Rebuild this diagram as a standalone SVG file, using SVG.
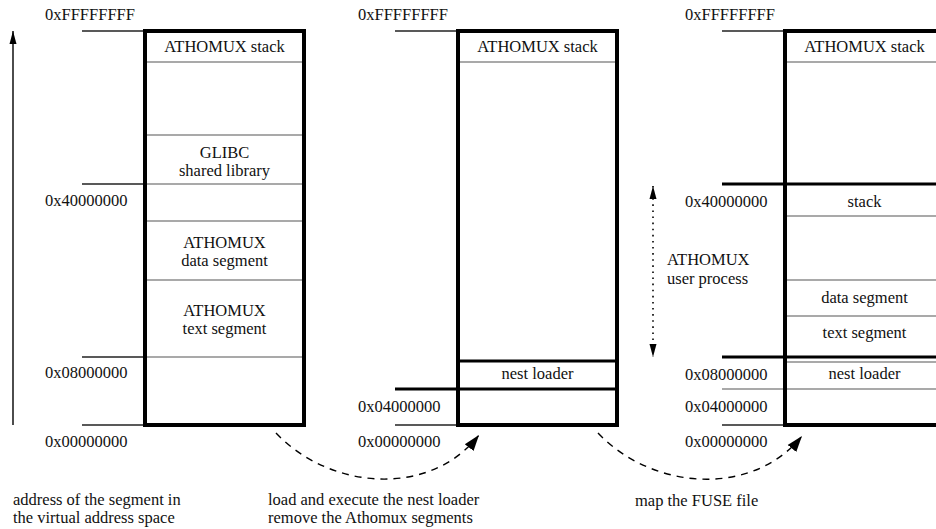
<svg xmlns="http://www.w3.org/2000/svg" width="936" height="529" viewBox="0 0 936 529">
<style>
text{font-family:"Liberation Serif",Tinos,"Times New Roman",Times,"DejaVu Serif","Noto Serif",serif;font-size:16.5px;fill:#111}
.c{text-anchor:middle}
.box{fill:none;stroke:#000;stroke-width:4}
.thin{stroke:#555;stroke-width:1.2;fill:none}
.tick{stroke:#222;stroke-width:1.5;fill:none}
.thick{stroke:#000;stroke-width:2.8;fill:none}
.dash{stroke:#000;stroke-width:1.4;fill:none;stroke-dasharray:7 6}
.dot{stroke:#000;stroke-width:1.6;fill:none;stroke-dasharray:1.6 4.5}
.axis{stroke:#000;stroke-width:1.4;fill:none}
</style>
<defs>
<marker id="ah" markerUnits="userSpaceOnUse" markerWidth="18" markerHeight="14" refX="16" refY="7" orient="auto"><path d="M0,1.5 L16,7 L0,12.5 Z" fill="#000"/></marker>
<marker id="ahs" markerUnits="userSpaceOnUse" markerWidth="14" markerHeight="10" refX="13" refY="4" orient="auto"><path d="M0,0.5 L13,4 L0,7.5 Z" fill="#000"/></marker>
<marker id="ahs0" markerUnits="userSpaceOnUse" markerWidth="14" markerHeight="10" refX="0" refY="4" orient="auto"><path d="M13,0.5 L0,4 L13,7.5 Z" fill="#000"/></marker>
</defs>

<g id="col1">
<line class="tick" x1="82" y1="31" x2="145" y2="31"/>
<line class="tick" x1="82" y1="184" x2="145" y2="184"/>
<line class="tick" x1="82" y1="357" x2="145" y2="357"/>
<line class="tick" x1="82" y1="425" x2="145" y2="425"/>
<line class="thin" x1="145" y1="62" x2="304" y2="62"/>
<line class="thin" x1="145" y1="135" x2="304" y2="135"/>
<line class="thin" x1="145" y1="184" x2="304" y2="184"/>
<line class="thin" x1="145" y1="221" x2="304" y2="221"/>
<line class="thin" x1="145" y1="280" x2="304" y2="280"/>
<line class="thin" x1="145" y1="357" x2="304" y2="357"/>
<rect class="box" x="145" y="31" width="159" height="394"/>
<text x="45" y="20">0xFFFFFFFF</text>
<text x="45" y="206">0x40000000</text>
<text x="45" y="378">0x08000000</text>
<text x="45" y="447">0x00000000</text>
<text class="c" x="224.5" y="52">ATHOMUX stack</text>
<text class="c" x="224.5" y="158">GLIBC</text>
<text class="c" x="224.5" y="176">shared library</text>
<text class="c" x="224.5" y="248">ATHOMUX</text>
<text class="c" x="224.5" y="266">data segment</text>
<text class="c" x="224.5" y="316">ATHOMUX</text>
<text class="c" x="224.5" y="334">text segment</text>
</g>

<g id="col2">
<line class="tick" x1="395" y1="31" x2="458" y2="31"/>
<line class="thick" x1="395" y1="389" x2="458" y2="389"/>
<line class="tick" x1="395" y1="425" x2="458" y2="425"/>
<line class="thin" x1="458" y1="62" x2="617" y2="62"/>
<line class="thick" x1="458" y1="361" x2="617" y2="361"/>
<line class="thick" x1="458" y1="389" x2="617" y2="389"/>
<rect class="box" x="458" y="31" width="159" height="394"/>
<text x="358" y="20">0xFFFFFFFF</text>
<text x="358" y="412">0x04000000</text>
<text x="358" y="447">0x00000000</text>
<text class="c" x="537.5" y="52">ATHOMUX stack</text>
<text class="c" x="537.5" y="379">nest loader</text>
</g>

<g id="col3">
<line class="tick" x1="722" y1="31" x2="785" y2="31"/>
<line class="thick" x1="722" y1="184" x2="936" y2="184"/>
<line class="thick" x1="722" y1="357" x2="936" y2="357"/>
<line class="thin" x1="722" y1="389" x2="936" y2="389"/>
<line class="tick" x1="722" y1="425" x2="785" y2="425"/>
<line class="thin" x1="785" y1="62" x2="936" y2="62"/>
<line class="thin" x1="785" y1="216" x2="936" y2="216"/>
<line class="thin" x1="785" y1="280" x2="936" y2="280"/>
<line class="thin" x1="785" y1="316" x2="936" y2="316"/>
<line class="thin" x1="785" y1="362" x2="936" y2="362"/>
<rect class="box" x="785" y="31" width="159" height="394"/>
<text x="685" y="20">0xFFFFFFFF</text>
<text x="685" y="207">0x40000000</text>
<text x="685" y="380">0x08000000</text>
<text x="685" y="412">0x04000000</text>
<text x="685" y="447">0x00000000</text>
<text class="c" x="864.5" y="52">ATHOMUX stack</text>
<text class="c" x="864.5" y="207">stack</text>
<text class="c" x="864.5" y="303">data segment</text>
<text class="c" x="864.5" y="338">text segment</text>
<text class="c" x="864.5" y="379">nest loader</text>
<text x="667" y="265">ATHOMUX</text>
<text x="667" y="284">user process</text>
</g>

<g id="connectors">
<line class="axis" x1="13" y1="425" x2="13" y2="31" marker-end="url(#ahs)"/>
<line class="dot" x1="653" y1="186" x2="653" y2="357" marker-start="url(#ahs0)" marker-end="url(#ahs)"/>
<path class="dash" d="M276,433 C330,490 430,498 479,435" marker-end="url(#ah)"/>
<path class="dash" d="M598,433 C652,490 752,498 802,436" marker-end="url(#ah)"/>
</g>

<g id="captions">
<text x="13" y="505">address of the segment in</text>
<text x="13" y="523">the virtual address space</text>
<text x="268" y="505">load and execute the nest loader</text>
<text x="268" y="523">remove the Athomux segments</text>
<text x="635" y="506">map the FUSE file</text>
</g>
</svg>
